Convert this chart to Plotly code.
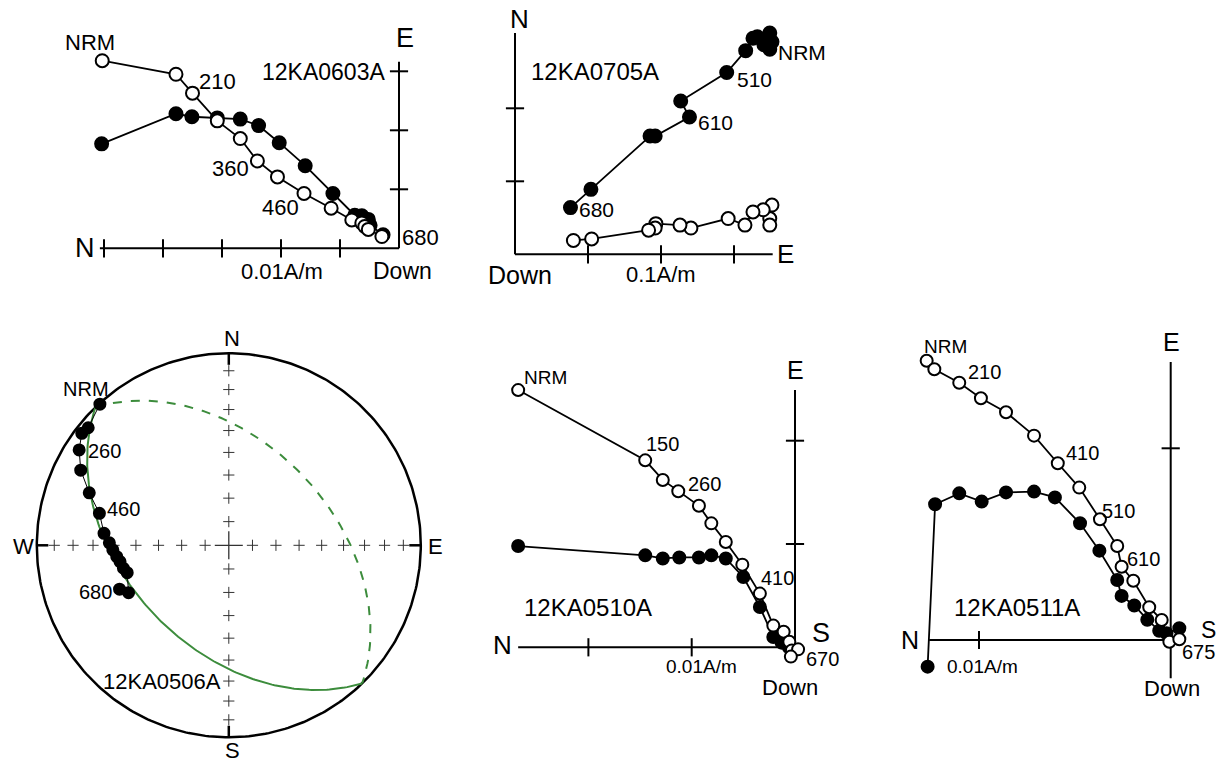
import numpy as np
import plotly.graph_objects as go

W, H = 1222, 763

# ---------------- DATA ----------------
# Panel 1: 12KA0603A (units = one tick interval)
p1_open_x = [-5.03, -3.78, -3.50, -3.08, -2.69, -2.40, -2.06, -1.61, -1.15, -0.80, -0.63, -0.58, -0.52, -0.29]
p1_open_y = [3.18, 2.95, 2.63, 2.16, 1.86, 1.48, 1.21, 0.93, 0.68, 0.48, 0.43, 0.37, 0.32, 0.20]
p1_fill_x = [-5.04, -3.78, -3.51, -3.08, -2.69, -2.38, -2.03, -1.59, -1.12, -0.75, -0.63, -0.52, -0.49, -0.27]
p1_fill_y = [1.77, 2.28, 2.23, 2.21, 2.19, 2.08, 1.79, 1.40, 0.93, 0.56, 0.55, 0.49, 0.39, 0.23]
p1_hticks = [-5, -4, -3, -2, -1]
p1_vticks = [1, 2, 3]

# Panel 2: 12KA0705A
p2_fill_x = [3.49, 3.52, 3.49, 3.41, 3.32, 3.26, 3.16, 2.90, 2.27, 2.39, 1.92, 1.85, 1.04, 0.76]
p2_fill_y = [2.81, 2.91, 3.03, 2.87, 2.98, 2.96, 2.79, 2.49, 2.10, 1.88, 1.62, 1.62, 0.89, 0.64]
p2_open_x = [3.52, 3.49, 3.49, 3.40, 3.26, 3.15, 2.92, 2.41, 2.26, 1.93, 1.92, 1.83, 1.05, 0.80]
p2_open_y = [0.675, 0.49, 0.40, 0.61, 0.58, 0.40, 0.49, 0.36, 0.40, 0.42, 0.36, 0.33, 0.21, 0.19]
p2_hticks = [1, 2, 3]
p2_vticks = [1, 2]

# Panel 3: 12KA0506A stereonet (lower hemisphere, equal area)
p3_dec = [317.6, 309.9, 307.3, 302.5, 296.9, 290.6, 283.9, 275.5, 271.2, 267.7, 264.2, 261.5, 257.7, 254.9, 244.7, 248.1]
p3_inc = [0.5, 5.1, 4.2, 8.4, 14.6, 23.4, 31.2, 35.0, 37.8, 39.4, 41.0, 42.2, 43.2, 44.4, 41.8, 38.6]
p3_gc_dipdir = 226.0
p3_gc_dip = 46.0
p3_grid_inc = [10, 20, 30, 40, 50, 60, 70, 80]

# Panel 4: 12KA0510A
p4_open_x = [-2.68, -1.45, -1.28, -1.13, -0.93, -0.81, -0.67, -0.51, -0.34, -0.21, -0.11, -0.055, -0.03, 0.03, -0.04]
p4_open_y = [2.49, 1.81, 1.62, 1.51, 1.37, 1.20, 1.02, 0.80, 0.52, 0.21, 0.15, 0.054, -0.03, -0.02, -0.09]
p4_fill_x = [-2.68, -1.45, -1.28, -1.12, -0.93, -0.81, -0.67, -0.50, -0.34, -0.21, -0.13, -0.06]
p4_fill_y = [0.98, 0.89, 0.86, 0.87, 0.87, 0.89, 0.86, 0.68, 0.39, 0.10, 0.045, 0.0]
p4_hticks = [-2, -1]
p4_vticks = [1, 2]

# Panel 5: 12KA0511A
p5_open_x = [-1.273, -1.233, -1.103, -0.990, -0.859, -0.713, -0.589, -0.477, -0.369, -0.279, -0.256, -0.195, -0.112, -0.047, -0.007, 0.045]
p5_open_y = [1.457, 1.412, 1.342, 1.261, 1.188, 1.066, 0.922, 0.795, 0.630, 0.490, 0.382, 0.309, 0.171, 0.104, -0.009, 0.004]
p5_fill_x = [-1.268, -1.229, -1.103, -0.986, -0.859, -0.713, -0.604, -0.473, -0.372, -0.279, -0.256, -0.190, -0.122, -0.060, -0.022, 0.045]
p5_fill_y = [-0.139, 0.708, 0.765, 0.722, 0.770, 0.774, 0.744, 0.609, 0.466, 0.313, 0.230, 0.180, 0.106, 0.048, 0.035, 0.061]
p5_hticks = [-1]
p5_vticks = [1]

# ---------------- LAYOUT HELPERS ----------------
FONT = "Liberation Sans, Arial, sans-serif"
layout_axes = {}


def place(i, box, origin, u):
    x0, x1, y0, y1 = box
    ox, oy = origin
    xs = "" if i == 1 else str(i)
    layout_axes["xaxis" + xs] = dict(domain=[x0 / W, x1 / W], range=[(x0 - ox) / u, (x1 - ox) / u],
                                     visible=False, fixedrange=True, anchor="y" + xs)
    layout_axes["yaxis" + xs] = dict(domain=[1 - y1 / H, 1 - y0 / H], range=[(oy - y1) / u, (oy - y0) / u],
                                     visible=False, fixedrange=True, anchor="x" + xs)
    return "x" + xs, "y" + xs


traces = []


def line(xa, ya, x, y, width=2, color="black", dash=None):
    traces.append(go.Scatter(x=x, y=y, mode="lines", xaxis=xa, yaxis=ya,
                             line=dict(color=color, width=width, dash=dash),
                             hoverinfo="skip", showlegend=False, cliponaxis=False))


def pts(xa, ya, x, y, filled, size=13, lw=1.8):
    traces.append(go.Scatter(
        x=x, y=y, mode="lines+markers", xaxis=xa, yaxis=ya,
        line=dict(color="black", width=lw),
        marker=dict(symbol="circle", size=size, color="black" if filled else "white",
                    line=dict(color="black", width=2)),
        hoverinfo="skip", showlegend=False, cliponaxis=False))


def ticks(xa, ya, x, y, symbol):
    traces.append(go.Scatter(x=x, y=y, mode="markers", xaxis=xa, yaxis=ya,
                             marker=dict(symbol=symbol, size=13, color="black",
                                         line=dict(color="black", width=2)),
                             hoverinfo="skip", showlegend=False, cliponaxis=False))


# ---------------- PANEL 1 ----------------
xa, ya = place(1, (60, 445, 20, 290), (399, 248.3), 59.0)
line(xa, ya, [-5.07, 0], [0, 0])
line(xa, ya, [0, 0], [0, 3.16])
ticks(xa, ya, p1_hticks, [0] * len(p1_hticks), "line-ns")
ticks(xa, ya, [0] * len(p1_vticks), p1_vticks, "line-ew")
pts(xa, ya, p1_fill_x, p1_fill_y, True)
pts(xa, ya, p1_open_x, p1_open_y, False)

# ---------------- PANEL 2 ----------------
xa, ya = place(2, (490, 830, 10, 290), (515, 254.3), 73.0)
line(xa, ya, [0, 3.53], [0, 0])
line(xa, ya, [0, 0], [0, 3.03])
ticks(xa, ya, p2_hticks, [0] * len(p2_hticks), "line-ns")
ticks(xa, ya, [0] * len(p2_vticks), p2_vticks, "line-ew")
pts(xa, ya, p2_fill_x, p2_fill_y, True, size=13)
pts(xa, ya, p2_open_x, p2_open_y, False, size=13)

# ---------------- PANEL 3 (stereonet) ----------------
xa, ya = place(3, (20, 450, 330, 760), (228.8, 545.3), 192.0)


def eqarea(dec, inc):
    dec = np.radians(np.asarray(dec, float))
    inc = np.radians(np.abs(np.asarray(inc, float)))
    r = np.sqrt(1 - np.sin(inc))
    return r * np.sin(dec), r * np.cos(dec)


# primitive circle
th = np.linspace(0, 2 * np.pi, 361)
line(xa, ya, np.cos(th), np.sin(th), width=2.5)
# grid crosses
rg = np.sqrt(1 - np.sin(np.radians(p3_grid_inc)))
gx = np.concatenate([rg, -rg, np.zeros(len(rg) * 2)])
gy = np.concatenate([np.zeros(len(rg) * 2), rg, -rg])
traces.append(go.Scatter(x=gx, y=gy, mode="markers", xaxis=xa, yaxis=ya,
                         marker=dict(symbol="cross-thin", size=8, line=dict(color="#333", width=1)),
                         hoverinfo="skip", showlegend=False, cliponaxis=False))
traces.append(go.Scatter(x=[0], y=[0], mode="markers", xaxis=xa, yaxis=ya,
                         marker=dict(symbol="cross-thin", size=20, line=dict(color="#333", width=1.3)),
                         hoverinfo="skip", showlegend=False, cliponaxis=False))
for sx, sy in [(1, 0), (-1, 0), (0, 1), (0, -1)]:
    line(xa, ya, [sx, sx * 0.94], [sy, sy * 0.94], width=2.5)

# great circle
dd = np.radians(p3_gc_dipdir)
dp = np.radians(p3_gc_dip)
s_vec = np.array([np.cos(dd - np.pi / 2), np.sin(dd - np.pi / 2), 0.0])  # strike (N,E,Down)
d_vec = np.array([np.cos(dd) * np.cos(dp), np.sin(dd) * np.cos(dp), np.sin(dp)])
for t0, t1, dash in [(0, 180, None), (180, 360, "dash")]:
    t = np.radians(np.linspace(t0, t1, 181))
    v = np.outer(np.cos(t), s_vec) + np.outer(np.sin(t), d_vec)
    dec = np.degrees(np.arctan2(v[:, 1], v[:, 0]))
    inc = np.degrees(np.arcsin(np.clip(v[:, 2], -1, 1)))
    gx_, gy_ = eqarea(dec, inc)
    line(xa, ya, gx_, gy_, width=2, color="#3c8c3c", dash=dash)

sx_, sy_ = eqarea(p3_dec, p3_inc)
pts(xa, ya, sx_, sy_, True, size=11, lw=1)

# ---------------- PANEL 4 ----------------
xa, ya = place(4, (495, 860, 350, 700), (795, 647.3), 103.3)
line(xa, ya, [-2.68, 0], [0, 0])
line(xa, ya, [0, 0], [0, 2.49])
ticks(xa, ya, p4_hticks, [0] * len(p4_hticks), "line-ns")
ticks(xa, ya, [0] * len(p4_vticks), p4_vticks, "line-ew")
pts(xa, ya, p4_fill_x, p4_fill_y, True, size=12)
pts(xa, ya, p4_open_x, p4_open_y, False, size=12)

# ---------------- PANEL 5 ----------------
xa, ya = place(5, (890, 1222, 330, 700), (1170.7, 640), 191.7)
line(xa, ya, [-1.26, 0], [0, 0])
line(xa, ya, [0, 0], [-0.20, 1.45])
ticks(xa, ya, p5_hticks, [0] * len(p5_hticks), "line-ns")
ticks(xa, ya, [0] * len(p5_vticks), p5_vticks, "line-ew")
pts(xa, ya, p5_fill_x, p5_fill_y, True, size=12)
pts(xa, ya, p5_open_x, p5_open_y, False, size=12)

# ---------------- TEXT ----------------
labels = [
    # panel 1
    ("NRM", 90, 42, 22), ("210", 217, 82, 22), ("12KA0603A", 323, 72, 23), ("360", 230, 168, 22),
    ("460", 280, 207, 22), ("680", 420, 237, 22), ("E", 405, 38, 27), ("N", 85, 248, 27),
    ("0.01A/m", 282, 271, 22), ("Down", 403, 271, 23),
    # panel 2
    ("N", 519, 19, 26), ("12KA0705A", 595, 72, 24), ("NRM", 802, 52, 21), ("510", 754, 79, 21),
    ("610", 715, 122, 21), ("680", 596, 209, 21), ("E", 785, 254, 26), ("Down", 520, 275, 25),
    ("0.1A/m", 661, 274, 22),
    # panel 3
    ("N", 232, 338, 22), ("W", 23, 546, 22), ("E", 435, 546, 22), ("S", 232, 750, 22),
    ("NRM", 86, 389, 20), ("260", 104, 451, 20), ("460", 123, 509, 20), ("680", 95, 592, 20),
    ("12KA0506A", 162, 681, 22),
    # panel 4
    ("NRM", 545, 377, 19), ("E", 795, 370, 25), ("150", 663, 444, 20), ("260", 705, 484, 20),
    ("410", 777, 578, 20), ("12KA0510A", 588, 607, 24), ("N", 502, 645, 26), ("S", 821, 633, 27),
    ("670", 822, 659, 20), ("0.01A/m", 701, 666, 19), ("Down", 790, 687, 22),
    # panel 5
    ("NRM", 945, 346, 19), ("E", 1171, 342, 25), ("210", 984, 372, 20), ("410", 1082, 453, 20),
    ("510", 1118, 511, 20), ("610", 1143, 559, 20), ("12KA0511A", 1017, 607, 24), ("N", 910, 640, 25),
    ("S", 1208, 630, 23), ("675", 1198, 652, 20), ("0.01A/m", 982, 666, 19), ("Down", 1172, 688, 22),
]
annotations = [dict(text=t, x=px / W, y=1 - py / H, xref="paper", yref="paper", showarrow=False,
                    xanchor="center", yanchor="middle", font=dict(family=FONT, size=s, color="black"))
               for t, px, py, s in labels]

fig = go.Figure(data=traces)
fig.update_layout(width=W, height=H, margin=dict(l=0, r=0, t=0, b=0, pad=0),
                  paper_bgcolor="white", plot_bgcolor="rgba(0,0,0,0)",
                  showlegend=False, annotations=annotations, **layout_axes)
fig.write_html("out.html", config={"displayModeBar": False})
